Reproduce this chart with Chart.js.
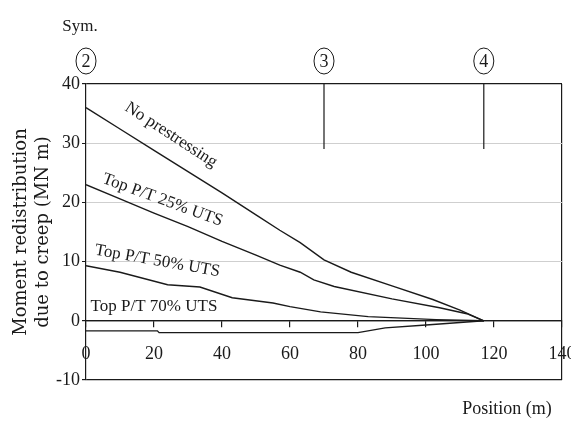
<!DOCTYPE html>
<html>
<head>
<meta charset="utf-8">
<script src="https://cdn.jsdelivr.net/npm/chart.js@4"></script>
<style>
  html, body { margin: 0; padding: 0; background: #fff; }
</style>
</head>
<body>
<canvas id="chart" width="571" height="421"></canvas>
<script>
// Moment redistribution due to creep vs position along the bridge

// series: x = position (m), y = moment (MN m)
const noPrestressX = [0, 10, 20, 30, 40, 50, 57, 63, 70, 78, 90, 102, 110, 117];
const noPrestressY = [36, 32.4, 28.8, 25.2, 21.6, 17.9, 15.3, 13.2, 10.3, 8.2, 5.9, 3.6, 1.8, 0];

const top25X = [0, 10, 20, 30, 40, 50, 57, 63, 67, 73, 90, 104, 112, 117];
const top25Y = [23, 20.6, 18.2, 15.9, 13.4, 11.1, 9.4, 8.2, 6.9, 5.8, 3.7, 2.2, 1.2, 0];

const top50X = [0, 10, 24, 33.5, 43, 55, 60, 69, 83, 103, 117];
const top50Y = [9.3, 8.2, 6.1, 5.7, 3.9, 3.0, 2.4, 1.5, 0.7, 0.2, 0];

const top70X = [0, 21, 21.5, 80, 88, 100, 112, 117];
const top70Y = [-1.7, -1.7, -2.0, -2.0, -1.2, -0.7, -0.2, 0];

// section marks at the top of the plot
const sectionPos = [0, 70, 117];
const sectionNames = ['2', '3', '4'];
const sectionLineTop = 40;
const sectionLineBottom = 29;

// curve labels: text, x, y (data units), angle (deg)
const curveLabels = ['No prestressing', 'Top P/T 25% UTS', 'Top P/T 50% UTS', 'Top P/T 70% UTS'];
const curveLabelX = [25, 22.5, 21, 20];
const curveLabelY = [31.4, 20.4, 10.1, 2.4];
const curveLabelAngle = [33, 20, 10, 0];

const xTicksMin = 0, xTicksMax = 140, xStep = 20;
const yTicksMin = -10, yTicksMax = 40, yStep = 10;

const ink = '#1a1a1a';
const serif = "'Liberation Serif', 'Times New Roman', serif";

function zip(xs, ys) {
  return xs.map((x, i) => ({ x: x, y: ys[i] }));
}

function curve(xs, ys) {
  return {
    data: zip(xs, ys),
    borderColor: ink,
    borderWidth: 1.4,
    pointRadius: 0,
    tension: 0,
    fill: false
  };
}

const datasets = [
  curve(noPrestressX, noPrestressY),
  curve(top25X, top25Y),
  curve(top50X, top50Y),
  curve(top70X, top70Y)
];

// short vertical lines under sections 3 and 4
sectionPos.slice(1).forEach(p => {
  datasets.push({
    data: [{ x: p, y: sectionLineTop }, { x: p, y: sectionLineBottom }],
    borderColor: ink,
    borderWidth: 1.2,
    pointRadius: 0
  });
});

const annotations = {
  id: 'annotations',
  afterDraw(chart) {
    const ctx = chart.ctx;
    const xs = chart.scales.x;
    const ys = chart.scales.y;
    const area = chart.chartArea;
    ctx.save();
    ctx.fillStyle = ink;
    ctx.strokeStyle = ink;

    // curve labels
    ctx.font = '17px ' + serif;
    ctx.textAlign = 'center';
    ctx.textBaseline = 'middle';
    curveLabels.forEach((t, i) => {
      ctx.save();
      ctx.translate(xs.getPixelForValue(curveLabelX[i]), ys.getPixelForValue(curveLabelY[i]));
      ctx.rotate(curveLabelAngle[i] * Math.PI / 180);
      ctx.fillText(t, 0, 0);
      ctx.restore();
    });

    // circled section numbers
    ctx.lineWidth = 1;
    ctx.font = '18px ' + serif;
    sectionPos.forEach((p, i) => {
      const cx = xs.getPixelForValue(p);
      const cy = area.top - 23;
      ctx.beginPath();
      ctx.ellipse(cx, cy, 10, 13, 0, 0, Math.PI * 2);
      ctx.stroke();
      ctx.fillText(sectionNames[i], cx, cy + 1);
    });

    ctx.font = '17px ' + serif;
    ctx.fillText('Sym.', xs.getPixelForValue(0) - 6, area.top - 57);

    // x axis title
    ctx.font = '18px ' + serif;
    ctx.fillText('Position (m)', area.right - 55, area.bottom + 29);
    ctx.restore();
  }
};

new Chart(document.getElementById('chart'), {
  type: 'line',
  data: { datasets: datasets },
  options: {
    responsive: false,
    animation: false,
    layout: { padding: { left: 0, top: 84, right: 9, bottom: 41 } },
    plugins: { legend: { display: false }, tooltip: { enabled: false } },
    scales: {
      x: {
        type: 'linear',
        position: { y: 0 },
        min: xTicksMin,
        max: xTicksMax,
        ticks: { stepSize: xStep, color: ink, font: { family: serif, size: 18 }, padding: 17, maxRotation: 0 },
        grid: {
          color: c => (c.tick && c.tick.value === xTicksMax) ? ink : 'rgba(0,0,0,0)',
          tickColor: ink,
          tickLength: 6,
          lineWidth: 1.2
        },
        border: { color: ink, width: 1.2 },
        afterFit: s => { s.paddingLeft = 0; s.paddingRight = 0; }
      },
      y: {
        min: yTicksMin,
        max: yTicksMax,
        ticks: { stepSize: yStep, color: ink, font: { family: serif, size: 18 }, padding: 2 },
        grid: {
          color: c => {
            const v = c.tick ? c.tick.value : null;
            if (v === yTicksMin || v === yTicksMax) return ink;
            if (v === 0) return ink;
            return '#cfcfcf';
          },
          tickColor: ink,
          tickLength: 4,
          lineWidth: c => (c.tick && (c.tick.value === yTicksMin || c.tick.value === yTicksMax || c.tick.value === 0)) ? 1.2 : 1
        },
        border: { color: ink, width: 1.2 },
        title: {
          display: true,
          text: ['Moment redistribution', 'due to creep (MN m)'],
          color: ink,
          font: { family: "'DejaVu Serif', serif", size: 18 },
          padding: { top: 11, bottom: 0 }
        },
        afterFit: s => { s.width = 86; }
      }
    }
  },
  plugins: [annotations]
});
</script>
</body>
</html>
